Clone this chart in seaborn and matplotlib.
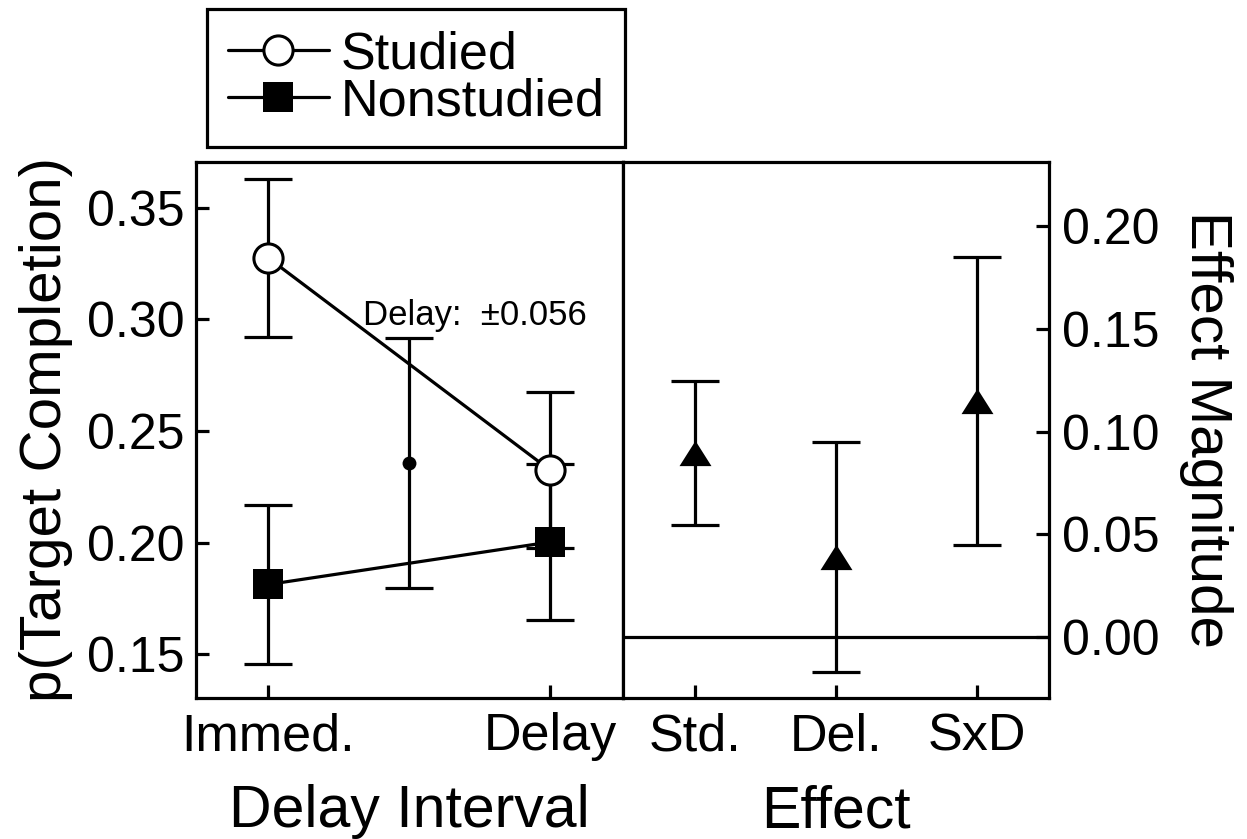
import matplotlib
matplotlib.use("Agg")
import matplotlib.pyplot as plt
from matplotlib.lines import Line2D
import seaborn as sns
import pandas as pd

# ---- data ----
conditions = ["Immed.", "Delay"]
studied_mean = [0.3275, 0.2325]
studied_err = [0.0355, 0.0349]
nonstudied_mean = [0.1813, 0.2003]
nonstudied_err = [0.0355, 0.0349]
delay_ci_mean = [0.2355]
delay_ci_err = [0.056]
delay_ci_label = "Delay:  \u00b10.056"

effects = ["Std.", "Del.", "SxD"]
effect_mean = [0.0896, 0.0392, 0.1147]
effect_err = [0.035, 0.0559, 0.0699]

left_yticks = [0.15, 0.20, 0.25, 0.30, 0.35]
right_yticks = [0.00, 0.05, 0.10, 0.15, 0.20]

# ---- style ----
sns.set_theme(style="ticks")
plt.rcParams["font.family"] = ["Liberation Sans", "DejaVu Sans"]
plt.rcParams["text.color"] = "black"
plt.rcParams["axes.labelcolor"] = "black"
plt.rcParams["xtick.color"] = "black"
plt.rcParams["ytick.color"] = "black"
plt.rcParams["axes.edgecolor"] = "black"
LW = 2.3

W, H = 1247, 839
fig = plt.figure(figsize=(W / 100, H / 100), dpi=100)
ax1 = fig.add_axes([196 / W, 1 - 697.7 / H, 427.3 / W, 536 / H])
ax2 = fig.add_axes([622.7 / W, 1 - 697.7 / H, 426.6 / W, 536 / H])

cond_pos = list(range(len(conditions)))
df = pd.DataFrame({
    "x": cond_pos * 2,
    "y": studied_mean + nonstudied_mean,
    "err": studied_err + nonstudied_err,
    "group": ["Studied"] * 2 + ["Nonstudied"] * 2,
})

# error bars (left)
ax1.errorbar(df["x"], df["y"], yerr=df["err"], fmt="none", ecolor="black",
             elinewidth=LW, capsize=17, capthick=LW, zorder=2)
mid = [0.5]
ax1.errorbar(mid, delay_ci_mean, yerr=delay_ci_err, fmt="none", ecolor="black",
             elinewidth=LW, capsize=17, capthick=LW, zorder=2)

st = df[df.group == "Studied"]
ns = df[df.group == "Nonstudied"]
sns.lineplot(data=st, x="x", y="y", ax=ax1, color="black", linewidth=LW,
             marker="o", markersize=21, markerfacecolor="white",
             markeredgecolor="black", markeredgewidth=2.2, zorder=4,
             errorbar=None)
sns.lineplot(data=ns, x="x", y="y", ax=ax1, color="black", linewidth=LW,
             marker="s", markersize=22, markerfacecolor="black",
             markeredgecolor="black", markeredgewidth=0, zorder=4,
             errorbar=None)
sns.scatterplot(x=mid, y=delay_ci_mean, ax=ax1, color="black", s=100,
                edgecolor="black", linewidth=0, zorder=4)
ax1.text(0.336, 0.2975, delay_ci_label, fontsize=25, ha="left",
         va="baseline", zorder=5, color="black")

ax1.set_xlim(-0.2567, 1.260)
ax1.set_ylim(0.1306, 0.3706)
ax1.set_xticks(cond_pos)
ax1.set_xticklabels(conditions)
ax1.set_yticks(left_yticks)
ax1.set_yticklabels([f"{v:.2f}" for v in left_yticks])
ax1.set_xlabel("Delay Interval", fontsize=42.5, labelpad=16.5)
ax1.set_ylabel("p(Target Completion)", fontsize=42, labelpad=10)
ax1.tick_params(axis="both", direction="in", length=9.6, width=LW,
                color="black")
ax1.tick_params(axis="y", labelsize=36, pad=8)
ax1.tick_params(axis="x", labelsize=37.5, pad=10.5)

# right panel
eff_pos = list(range(len(effects)))
edf = pd.DataFrame({"x": eff_pos, "y": effect_mean, "err": effect_err})
ax2.axhline(0, color="black", linewidth=LW, zorder=1)
ax2.errorbar(edf["x"], edf["y"], yerr=edf["err"], fmt="none", ecolor="black",
             elinewidth=LW, capsize=17, capthick=LW, zorder=2)
tri = [(0, 0.79), (-1, -0.79), (1, -0.79)]
sns.lineplot(data=edf, x="x", y="y", ax=ax2, color="black", linestyle="none",
             marker=tri, markersize=23, markerfacecolor="black",
             markeredgecolor="black", markeredgewidth=0, zorder=4,
             errorbar=None)
ax2.set_xlim(-0.51, 2.51)
ax2.set_ylim(-0.0293, 0.2311)
ax2.set_xticks(eff_pos)
ax2.set_xticklabels(effects)
ax2.set_yticks(right_yticks)
ax2.set_yticklabels([f"{v:.2f}" for v in right_yticks])
ax2.yaxis.set_label_position("right")
ax2.yaxis.tick_right()
ax2.set_xlabel("Effect", fontsize=42.5, labelpad=16.5)
ax2.set_ylabel("Effect Magnitude", fontsize=42, rotation=270, va="bottom",
               labelpad=14)
ax2.tick_params(axis="both", direction="in", length=9.6, width=LW,
                color="black")
ax2.tick_params(axis="y", labelsize=36, pad=9, left=False, right=True)
ax2.tick_params(axis="x", labelsize=37.5, pad=10.5)

for ax in (ax1, ax2):
    for sp in ax.spines.values():
        sp.set_visible(True)
        sp.set_linewidth(LW)
        sp.set_color("black")
    ax.set_facecolor("white")
    for lab in ax.get_xticklabels() + ax.get_yticklabels():
        lab.set_color("black")

handles = [
    Line2D([], [], color="black", linewidth=LW, marker="o", markersize=21,
           markerfacecolor="white", markeredgecolor="black",
           markeredgewidth=2.2),
    Line2D([], [], color="black", linewidth=LW, marker="s", markersize=22,
           markerfacecolor="black", markeredgecolor="black",
           markeredgewidth=0),
]
leg = fig.legend(handles, ["Studied", "Nonstudied"], loc="upper left",
                 bbox_to_anchor=(206.7 / W, 1 - 9.3 / H), fontsize=37.5,
                 frameon=True, fancybox=False, borderaxespad=0,
                 borderpad=0.4, handlelength=1.95, handletextpad=0.22,
                 labelspacing=-0.04)
for t in leg.get_texts():
    t.set_color("black")
fr = leg.get_frame()
fr.set_edgecolor("black")
fr.set_linewidth(LW)
fr.set_facecolor("white")
fr.set_alpha(1)

fig.savefig("out.png", dpi=100, facecolor="white")
